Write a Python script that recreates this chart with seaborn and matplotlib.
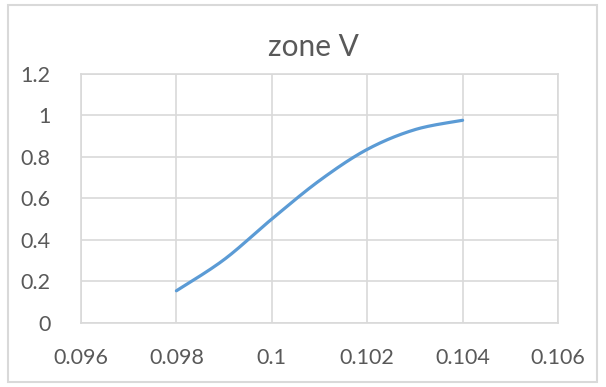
import numpy as np
import pandas as pd
import matplotlib
matplotlib.use("Agg")
import matplotlib.pyplot as plt
from matplotlib.patches import Rectangle
import seaborn as sns

# Series data
x_vals = [0.098, 0.099, 0.100, 0.101, 0.102, 0.103, 0.104]
y_vals = [0.155, 0.305, 0.50, 0.685, 0.835, 0.93, 0.975]

x_ticks = [0.096, 0.098, 0.100, 0.102, 0.104, 0.106]
x_tick_labels = ["0.096", "0.098", "0.1", "0.102", "0.104", "0.106"]
y_ticks = [0, 0.2, 0.4, 0.6, 0.8, 1.0, 1.2]
y_tick_labels = ["0", "0.2", "0.4", "0.6", "0.8", "1", "1.2"]

title = "zone V"


def smooth_line(xs, ys, steps=40):
    """Render the line as Catmull-Rom style cubic Bezier segments (smoothed line)."""
    xs = np.asarray(xs, float)
    ys = np.asarray(ys, float)
    n = len(xs)
    px = np.concatenate([[xs[0]], xs, [xs[-1]]])
    py = np.concatenate([[ys[0]], ys, [ys[-1]]])
    out_x, out_y = [], []
    t = np.linspace(0, 1, steps, endpoint=False)
    for i in range(n - 1):
        p0 = np.array([px[i + 1], py[i + 1]])
        p3 = np.array([px[i + 2], py[i + 2]])
        c1 = p0 + (np.array([px[i + 2], py[i + 2]]) - np.array([px[i], py[i]])) / 6
        c2 = p3 - (np.array([px[i + 3], py[i + 3]]) - np.array([px[i + 1], py[i + 1]])) / 6
        b = ((1 - t) ** 3)[:, None] * p0 + (3 * (1 - t) ** 2 * t)[:, None] * c1 \
            + (3 * (1 - t) * t ** 2)[:, None] * c2 + (t ** 3)[:, None] * p3
        out_x.extend(b[:, 0])
        out_y.extend(b[:, 1])
    out_x.append(xs[-1])
    out_y.append(ys[-1])
    return np.array(out_x), np.array(out_y)


sns.set_theme(style="white")
plt.rcParams["font.family"] = ["Lato", "DejaVu Sans"]

fig = plt.figure(figsize=(6.06, 3.87), dpi=100)
ax = fig.add_axes([81 / 606, 1 - 323 / 387, (558 - 81) / 606, (323 - 73.5) / 387])

sx, sy = smooth_line(x_vals, y_vals)
curve = pd.DataFrame({"x": sx, "y": sy})
sns.lineplot(data=curve, x="x", y="y", sort=False, ax=ax, color="#5B9BD5",
             linewidth=2.3, solid_capstyle="round")

ax.set_xlim(0.096, 0.106)
ax.set_ylim(0, 1.2)
ax.set_xticks(x_ticks)
ax.set_xticklabels(x_tick_labels)
ax.set_yticks(y_ticks)
ax.set_yticklabels(y_tick_labels)
ax.set_xlabel("")
ax.set_ylabel("")

grid_c = "#d9d9d9"
ax.grid(True, color=grid_c, linewidth=1.2)
ax.set_axisbelow(True)
for s in ax.spines.values():
    s.set_visible(True)
    s.set_color(grid_c)
    s.set_linewidth(1.2)

ax.tick_params(axis="both", length=0, labelsize=15.5, labelcolor="#595959")
ax.tick_params(axis="x", pad=18)
ax.tick_params(axis="y", pad=22)

fig.text(313 / 606, 1 - 47 / 387, title, ha="center", va="center",
         fontsize=21.5, color="#595959")

# Outer chart-area border
fig.patches.append(Rectangle((8 / 606, 1 - 382 / 387), 589 / 606, 377 / 387,
                             transform=fig.transFigure, fill=False,
                             edgecolor=grid_c, linewidth=1.5))

fig.savefig("out.png", dpi=100, facecolor="white")
